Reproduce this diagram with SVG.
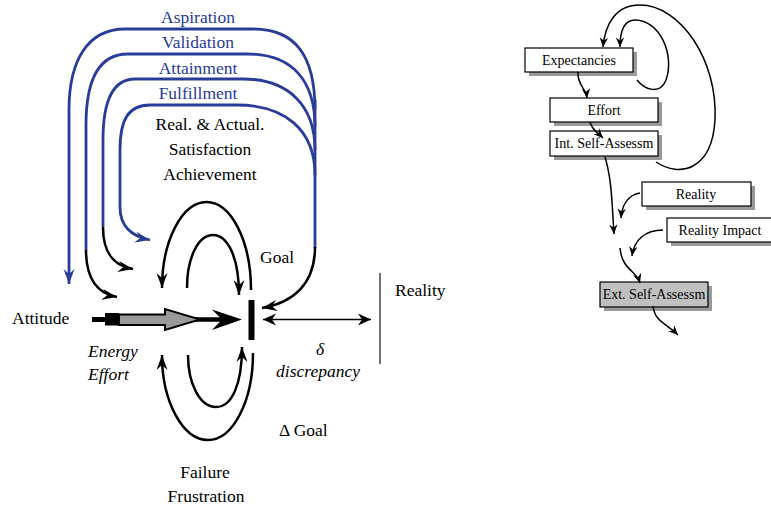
<svg xmlns="http://www.w3.org/2000/svg" width="771" height="508" viewBox="0 0 771 508" font-family="'Liberation Serif', 'Tinos', 'Noto Serif', 'DejaVu Serif', serif">
  <style>
    text { font-family: 'Liberation Serif', 'Tinos', 'Noto Serif', 'DejaVu Serif', serif; }
    .lbl { font-size: 17.5px; fill: #000; }
    .blbl { font-size: 17.5px; fill: #2a3b98; }
    .it { font-style: italic; }
    .box-text { font-size: 14px; fill: #000; }
    .blue { fill: none; stroke: #2a3b98; stroke-width: 2.8; }
    .blk { fill: none; stroke: #000; stroke-width: 2.5; }
    .thin { fill: none; stroke: #000; stroke-width: 1.5; }
    .box { fill: #fff; stroke: #000; stroke-width: 1.2; }
    .shadow { fill: #9a9a9a; }
  </style>
  <defs>
    <marker id="ah" viewBox="-16 -7 17 14" refX="0" refY="0" markerWidth="17" markerHeight="14" markerUnits="userSpaceOnUse" orient="auto">
      <path d="M0,0 L-15,-5.5 L-10,0 L-15,5.5 Z" fill="#000"/>
    </marker>
    <marker id="ahb" viewBox="-16 -7 17 14" refX="0" refY="0" markerWidth="17" markerHeight="14" markerUnits="userSpaceOnUse" orient="auto">
      <path d="M0,0 L-15,-5.5 L-10,0 L-15,5.5 Z" fill="#2a3b98"/>
    </marker>
    <marker id="ahd" viewBox="-14 -7 15 14" refX="0" refY="0" markerWidth="15" markerHeight="14" markerUnits="userSpaceOnUse" orient="auto-start-reverse">
      <path d="M0,0 L-13,-6 L-9,0 L-13,6 Z" fill="#000"/>
    </marker>
    <marker id="ahs" viewBox="-11 -6 12 12" refX="0" refY="0" markerWidth="12" markerHeight="12" markerUnits="userSpaceOnUse" orient="auto">
      <path d="M0,0 L-9.5,-4.2 L-6.5,0 L-9.5,4.2 Z" fill="#000"/>
    </marker>
  </defs>

  <!-- Left model: nested feedback loops around the goal -->
  <g id="connectors-left">
    <!-- shared right-hand riser of the blue loops -->
    <path class="blue" d="M315,100 V248"/>
    <!-- Aspiration loop -->
    <path class="blue" d="M315,110 C315,55 295,29 253,29 H125 C88,29 69,60 69,110 V284" marker-end="url(#ahb)"/>
    <!-- Validation loop -->
    <path class="blue" d="M315,127 C315,80 292,54 247,54 H128 C99,54 86,80 86,125 V250"/>
    <path class="blk" d="M86,250 C86,282 100,294 117,297" marker-end="url(#ah)"/>
    <!-- Attainment loop -->
    <path class="blue" d="M315,150 C315,105 288,79 243,79 H135 C113,79 103,100 103,140 V227"/>
    <path class="blk" d="M103,227 C103,255 115,266 133,269" marker-end="url(#ah)"/>
    <!-- Fulfillment loop -->
    <path class="blue" d="M315,175 C315,130 285,105 237,105 H150 C128,105 120,120 120,150 V207 C120,225 130,236 150,240" marker-end="url(#ahb)"/>
    <!-- riser into the goal bar -->
    <path class="blk" d="M315,247 C315,285 292,303 262,308" marker-end="url(#ah)"/>

    <!-- upper arches -->
    <path class="blk" d="M251,290 C251,241 231,202 206.5,202 C182,202 162,241 162,288" marker-end="url(#ah)"/>
    <path class="blk" d="M187,288 C187,258 198,235 213,235 C228,235 239,258 239,295" marker-end="url(#ah)"/>
    <!-- lower arches -->
    <path class="blk" d="M253,353 C253,401 233,440 208,440 C183,440 162,402 162,355" marker-end="url(#ah)"/>
    <path class="blk" d="M188,355 C188,384 200,407 216,407 C232,407 242,384 242,347" marker-end="url(#ah)"/>

    <!-- discrepancy double arrow -->
    <path class="thin" stroke-width="2" d="M263,319.5 H371" marker-start="url(#ahd)" marker-end="url(#ahd)"/>
  </g>

  <!-- Attitude / effort arrow -->
  <g id="effort-arrow">
    <rect x="92" y="317" width="14" height="5" fill="#000"/>
    <rect x="105" y="313" width="14" height="12.5" fill="#000"/>
    <line x1="195" y1="319.5" x2="224" y2="319.5" stroke="#000" stroke-width="4.5"/>
    <polygon points="119,314.5 165,314.5 165,309 200,319.5 165,330 165,325 119,325" fill="#999" stroke="#000" stroke-width="2"/>
    <path d="M242,319.5 L212,309.5 L222,319.5 L212,330 Z" fill="#000"/>
  </g>

  <g id="goal-bar">
    <rect x="248.5" y="300" width="6" height="40" fill="#000"/>
  </g>

  <g id="reality-line">
    <line x1="380" y1="273" x2="380" y2="364" stroke="#444" stroke-width="1.5"/>
  </g>

  <g id="labels-left">
    <text class="blbl" x="198" y="23" text-anchor="middle">Aspiration</text>
    <text class="blbl" x="198" y="48" text-anchor="middle">Validation</text>
    <text class="blbl" x="198" y="74" text-anchor="middle">Attainment</text>
    <text class="blbl" x="198" y="99" text-anchor="middle">Fulfillment</text>
    <text class="lbl" x="210" y="130" text-anchor="middle">Real. &amp; Actual.</text>
    <text class="lbl" x="210" y="155" text-anchor="middle">Satisfaction</text>
    <text class="lbl" x="210" y="180" text-anchor="middle">Achievement</text>
    <text class="lbl" x="260" y="263">Goal</text>
    <text class="lbl" x="12" y="324">Attitude</text>
    <text class="lbl it" x="88" y="357">Energy</text>
    <text class="lbl it" x="88" y="380">Effort</text>
    <text class="lbl it" x="320" y="355" text-anchor="middle">δ</text>
    <text class="lbl it" x="318" y="377" text-anchor="middle">discrepancy</text>
    <text class="lbl" x="279" y="436">Δ Goal</text>
    <text class="lbl" x="205" y="478" text-anchor="middle">Failure</text>
    <text class="lbl" x="206" y="502" text-anchor="middle">Frustration</text>
    <text class="lbl" x="395" y="296">Reality</text>
  </g>

  <!-- Right model: self-assessment flow -->
  <g id="expectancies">
    <rect class="shadow" x="529" y="52" width="108" height="24"/>
    <rect class="box" x="525" y="48" width="108" height="24"/>
    <text class="box-text" x="579" y="65" text-anchor="middle">Expectancies</text>
  </g>
  <g id="effort">
    <rect class="shadow" x="554" y="102" width="108" height="24"/>
    <rect class="box" x="550" y="98" width="108" height="24"/>
    <text class="box-text" x="604" y="115" text-anchor="middle">Effort</text>
  </g>
  <g id="int-self-assessm">
    <rect class="shadow" x="554" y="135" width="108" height="25"/>
    <rect class="box" x="550" y="131" width="108" height="25"/>
    <text class="box-text" x="604" y="148" text-anchor="middle">Int. Self-Assessm</text>
  </g>
  <g id="reality">
    <rect class="shadow" x="646" y="186" width="109" height="24"/>
    <rect class="box" x="642" y="182" width="109" height="24"/>
    <text class="box-text" x="696" y="199" text-anchor="middle">Reality</text>
  </g>
  <g id="reality-impact">
    <rect class="shadow" x="671" y="222" width="108" height="24"/>
    <rect class="box" x="667" y="218" width="108" height="24"/>
    <text class="box-text" x="720" y="235" text-anchor="middle">Reality Impact</text>
  </g>
  <g id="ext-self-assessm">
    <rect class="shadow" x="604" y="286" width="108" height="25"/>
    <rect x="600" y="282" width="108" height="25" fill="#c0c0c0" stroke="#000" stroke-width="1.2"/>
    <text class="box-text" x="654" y="299" text-anchor="middle">Ext. Self-Assessm</text>
  </g>

  <g id="connectors-right">
    <path class="thin" d="M656,162 C680,178 712,170 715,120 C718,60 680,5 640,5 C615,5 605,25 603,47" marker-end="url(#ahs)"/>
    <path class="thin" d="M637,80 C645,90 660,95 666,80 C675,55 660,20 635,20 C622,20 620,35 620,47" marker-end="url(#ahs)"/>
    <path class="thin" d="M578,72 C577,85 586,88 587,98" marker-end="url(#ahs)"/>
    <path class="thin" d="M590,122 C592,130 598,133 603,138" marker-end="url(#ahs)"/>
    <path class="thin" d="M605,157 C612,180 612,205 614,234" marker-end="url(#ahs)"/>
    <path class="thin" d="M640,193 C628,195 622,205 621,218" marker-end="url(#ahs)"/>
    <path class="thin" d="M663,230 C645,230 634,240 632,256" marker-end="url(#ahs)"/>
    <path class="thin" d="M620,248 C622,270 636,270 640,283" marker-end="url(#ahs)"/>
    <path class="thin" d="M653,306 C655,322 665,322 678,335" marker-end="url(#ahs)"/>
  </g>
</svg>
